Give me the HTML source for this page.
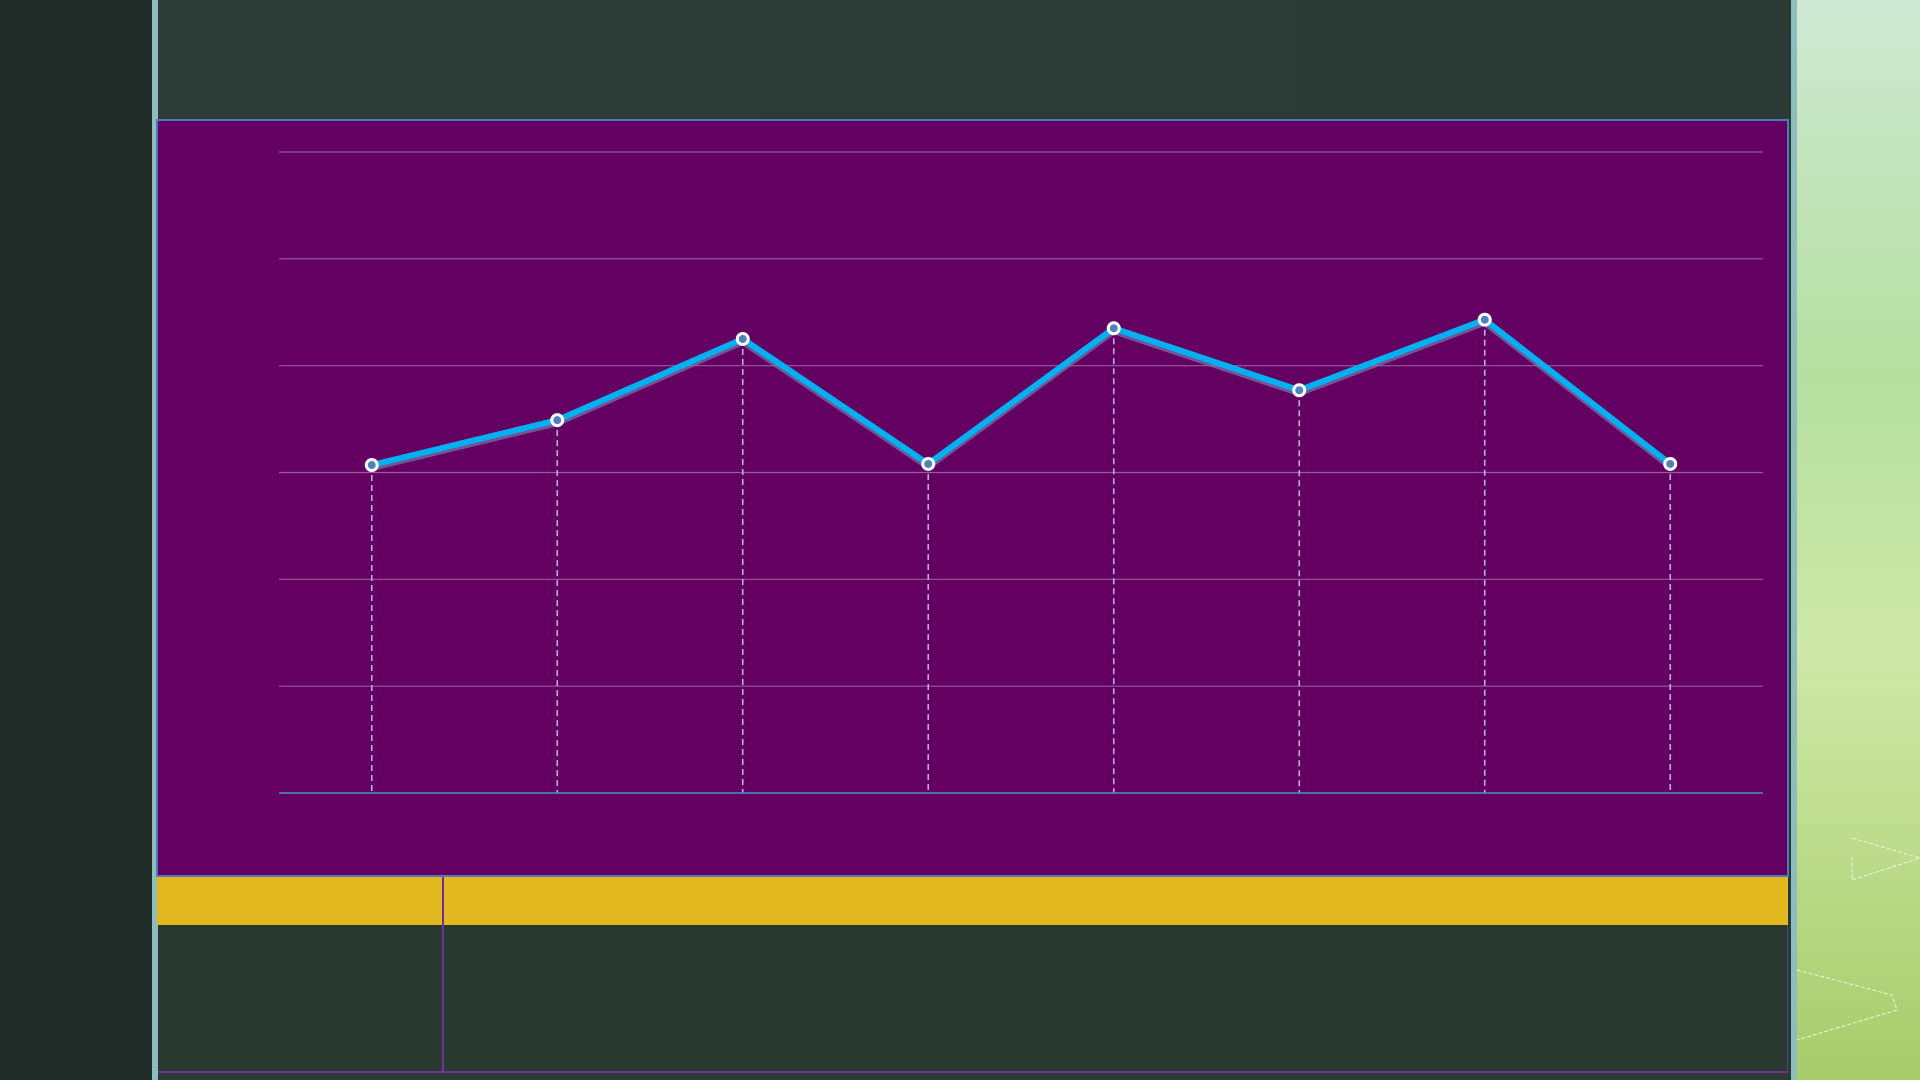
<!DOCTYPE html>
<html><head><meta charset="utf-8"><title>Chart</title>
<style>
html,body{margin:0;padding:0;width:1920px;height:1080px;overflow:hidden;background:#2b3a35;font-family:"Liberation Sans",sans-serif;}
.abs{position:absolute;}
</style></head>
<body>
<div class="abs" style="left:0;top:0;width:152px;height:1080px;background:#1f2b27;"></div>
<div class="abs" style="left:152px;top:0;width:6px;height:1080px;background:#8fbcbc;"></div>
<div class="abs" style="left:158px;top:0;width:1633px;height:120px;background:linear-gradient(90deg,#2e3c38,#2b3a35);"></div>
<div class="abs" style="left:1797px;top:0;width:123px;height:1080px;background:linear-gradient(180deg,#cfe9d4 0%,#b4df9e 35%,#cfe8a8 60%,#a8cc6a 100%);overflow:hidden;">
<svg width="123" height="1080"><polyline points="55,838 123,858 55,880 55,858" fill="none" stroke="#eef6e0" stroke-width="1" stroke-dasharray="4 2"/><polyline points="0,970 95,995 100,1010 0,1040" fill="none" stroke="#eef6e0" stroke-width="1" stroke-dasharray="4 2"/></svg>
</div>
<div class="abs" style="left:1791px;top:0;width:6px;height:1080px;background:#8fbcbc;"></div>
<div class="abs" style="left:158px;top:925px;width:1630px;height:146px;background:#29392f;border-bottom:2px solid #7030a0;"></div>
<div class="abs" style="left:157px;top:876px;width:1631px;height:49px;background:#e3b81f;"></div>
<div class="abs" style="left:442px;top:876px;width:2px;height:196px;background:#7030a0;"></div>
<div class="abs" style="left:1787px;top:925px;width:1px;height:147px;background:#5a3a8a;"></div>
<svg class="abs" style="left:0;top:0" width="1920" height="1080" id="chart">
<rect x="157" y="120" width="1631" height="756" fill="#640062" stroke="#4a7ab8" stroke-width="2"/>
</svg>
<script>
const categories=["C1","C2","C3","C4","C5","C6","C7","C8"];
const values=[3.07,3.49,4.25,3.08,4.35,3.77,4.43,3.08];
const yTicks=[0,1,2,3,4,5,6];
const X0=279,X1=1763,Y0=793,Y1=152,YMAX=6;
function xScale(i){return X0+(X1-X0)/categories.length*(i+0.5);}
function yScale(v){return Y0-(Y0-Y1)*v/YMAX;}
const svg=document.getElementById('chart');const NS='http://www.w3.org/2000/svg';
function mk(t,a){const e=document.createElementNS(NS,t);for(const k in a)e.setAttribute(k,a[k]);svg.appendChild(e);return e;}
yTicks.forEach(t=>{if(t===0)return;
const g=mk('line',{x1:X0,x2:X1,y1:yScale(t),y2:yScale(t),stroke:'#9a5aa0','stroke-width':1.2});

});
values.forEach((v,i)=>{const d=mk('line',{x1:xScale(i),x2:xScale(i),y1:yScale(v),y2:Y0,stroke:'#b8b0dc','stroke-width':1.6,'stroke-dasharray':'6 4'});

});
const ax=mk('line',{x1:X0,x2:X1,y1:Y0,y2:Y0,stroke:'#4a90d0','stroke-width':1.5});


const pts=values.map((v,i)=>xScale(i)+','+yScale(v)).join(' ');
const sh=mk('polyline',{points:values.map((v,i)=>xScale(i)+','+(yScale(v)+3)).join(' '),fill:'none',stroke:'#7a78b0','stroke-width':6,'stroke-opacity':0.7,'stroke-linejoin':'round'});


const ln=mk('polyline',{points:pts,fill:'none',stroke:'#00b0f0','stroke-width':6,'stroke-linejoin':'round'});


values.forEach((v,i)=>{const c=mk('circle',{cx:xScale(i),cy:yScale(v),r:5.5,fill:'#4f81bd',stroke:'#fff','stroke-width':3});

});
</script>
</body></html>
